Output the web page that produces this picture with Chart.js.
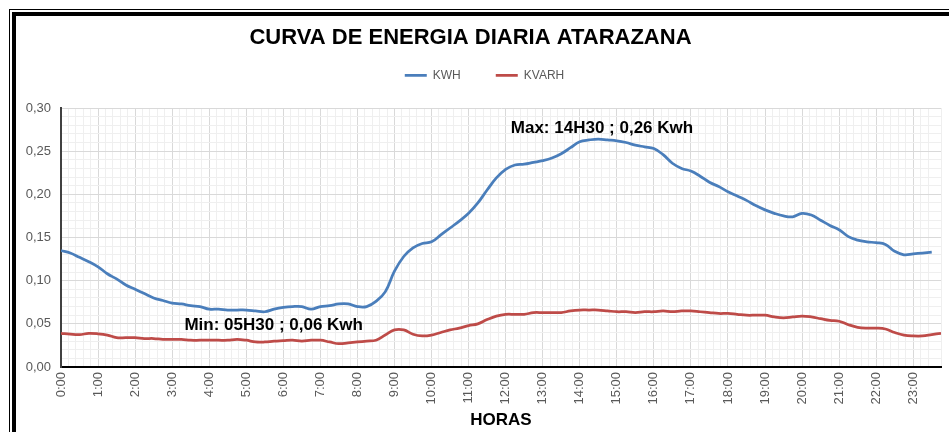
<!DOCTYPE html>
<html>
<head>
<meta charset="utf-8">
<script src="https://cdn.jsdelivr.net/npm/chart.js@4"></script>
<style>
  html, body { margin:0; padding:0; background:#fff; overflow:hidden; }
  .wrap { position:relative; width:949px; height:432px; }
  .frame { position:absolute; left:9px; top:9px; width:2000px; height:2000px; border-left:1px solid #000; border-top:1px solid #000; }
  .frame::after { content:''; position:absolute; left:2px; top:2px; right:0; bottom:0; border-left:4px solid #000; border-top:4px solid #000; }
  canvas { position:absolute; left:0; top:0; }
</style>
</head>
<body>
<div class="wrap">
  <div class="frame"></div>
  <canvas id="c" width="949" height="432"></canvas>
</div>
<script>
/* Curva de energia diaria - 15 min readings */
const times = [
  '0:00','0:15','0:30','0:45', '1:00','1:15','1:30','1:45', '2:00','2:15','2:30','2:45',
  '3:00','3:15','3:30','3:45', '4:00','4:15','4:30','4:45', '5:00','5:15','5:30','5:45',
  '6:00','6:15','6:30','6:45', '7:00','7:15','7:30','7:45', '8:00','8:15','8:30','8:45',
  '9:00','9:15','9:30','9:45', '10:00','10:15','10:30','10:45', '11:00','11:15','11:30','11:45',
  '12:00','12:15','12:30','12:45', '13:00','13:15','13:30','13:45', '14:00','14:15','14:30','14:45',
  '15:00','15:15','15:30','15:45', '16:00','16:15','16:30','16:45', '17:00','17:15','17:30','17:45',
  '18:00','18:15','18:30','18:45', '19:00','19:15','19:30','19:45', '20:00','20:15','20:30','20:45',
  '21:00','21:15','21:30','21:45', '22:00','22:15','22:30','22:45', '23:00','23:15','23:30','23:45'
];

const kwh = [
  .135, .132, .127, .122,   .116, .108, .102, .095,   .090, .085, .080, .077,
  .074, .073, .071, .070,   .067, .067, .066, .066,   .066, .065, .064, .067,
  .069, .070, .070, .067,   .070, .071, .073, .073,   .070, .070, .076, .087,
  .111, .128, .138, .143,   .145, .153, .161, .169,   .178, .190, .205, .219,
  .229, .234, .235, .237,   .239, .242, .247, .254,   .261, .263, .264, .263,
  .262, .260, .257, .255,   .253, .246, .236, .230,   .227, .221, .214, .209,
  .203, .198, .193, .187,   .182, .178, .175, .174,   .178, .176, .170, .164,
  .159, .151, .147, .145,   .144, .142, .134, .130,   .131, .132, .133, null
];

const kvarh = [
  .039, .038, .0375, .039,  .0385, .037, .034, .034,  .034, .033, .033, .032,
  .032, .032, .031, .031,   .031, .031, .031, .032,   .031, .029, .029, .030,
  .0305, .031, .030, .031,  .031, .029, .027, .028,   .029, .030, .031, .037,
  .043, .043, .038, .036,   .037, .040, .043, .045,   .048, .050, .055, .059,
  .061, .061, .061, .063,   .063, .063, .063, .065,   .066, .066, .066, .065,
  .064, .064, .063, .064,   .064, .065, .064, .065,   .065, .064, .063, .062,
  .062, .061, .060, .060,   .060, .058, .057, .058,   .059, .058, .056, .054,
  .053, .049, .046, .045,   .045, .044, .040, .037,   .036, .036, .0375, .039
];

const notes = [
  { text: 'Max: 14H30 ; 0,26 Kwh', hour: 14.6, value: 0.277 },
  { text: 'Min: 05H30 ; 0,06 Kwh', hour: 5.74, value: 0.0487 }
];

const FONT = "'Liberation Sans', Arial, sans-serif";
const GREY = '#595959';
const hourOf = s => { const [h, m] = s.split(':'); return +h + (+m) / 60; };
const pts = arr => times.map((t, i) => ({ x: hourOf(t), y: arr[i] }));
const isWhole = v => Math.abs(v - Math.round(v)) < 1e-6;

const notesPlugin = {
  id: 'notes',
  afterLayout(chart) {
    // legend in the reference sits a little right of centre
    chart.legend.left += 14; chart.legend.right += 14;
  },
  afterDatasetsDraw(chart) {
    const { ctx, scales: { x, y } } = chart;
    ctx.save();
    ctx.font = `bold 17px ${FONT}`;
    ctx.fillStyle = '#000';
    ctx.textAlign = 'center';
    ctx.textBaseline = 'middle';
    notes.forEach(n => ctx.fillText(n.text, x.getPixelForValue(n.hour), y.getPixelForValue(n.value)));
    ctx.restore();
  }
};

new Chart(document.getElementById('c'), {
  type: 'line',
  data: {
    datasets: [
      { label: 'KWH', data: pts(kwh), borderColor: '#4A7EBB', backgroundColor: '#4A7EBB', borderWidth: 2.75, pointRadius: 0, tension: 0.4 },
      { label: 'KVARH', data: pts(kvarh), borderColor: '#BE4B48', backgroundColor: '#BE4B48', borderWidth: 2.75, pointRadius: 0, tension: 0.4 }
    ]
  },
  options: {
    responsive: false, animation: false,
    layout: { padding: { left: 0, right: 8, top: 0, bottom: 0 } },
    plugins: {
      title: { display: true, text: 'CURVA DE ENERGIA DIARIA ATARAZANA', color: '#000',
               font: { family: FONT, size: 22, weight: 'bold' }, padding: { top: 25, bottom: -17 } },
      legend: { position: 'top',
                labels: { usePointStyle: true, pointStyle: 'line', pointStyleWidth: 22, padding: 35,
                          color: GREY, font: { family: FONT, size: 12 } } },
      tooltip: { enabled: false }
    },
    scales: {
      x: {
        type: 'linear', min: 0, max: 23.75,
        grid: { drawTicks: false, color: c => isWhole(c.tick.value) ? '#d9d9d9' : '#efefef' },
        border: { color: '#000', width: 2 },
        ticks: { stepSize: 0.2, autoSkip: false, minRotation: 90, maxRotation: 90, padding: 5,
                 color: GREY, font: { family: FONT, size: 13 },
                 callback: v => isWhole(v) && v < 24 ? Math.round(v) + ':00' : '' },
        title: { display: true, text: 'HORAS', color: '#000', font: { family: FONT, size: 17, weight: 'bold' },
                 padding: { top: 0, bottom: 1 } },
        afterFit: s => { s.height = 65; s.paddingLeft = 0; s.paddingRight = 0; }
      },
      xTop: {
        type: 'linear', position: 'top', min: 0, max: 1,
        grid: { display: false }, border: { display: false }, ticks: { display: false },
        afterFit: s => { s.height = 16.6; s.paddingLeft = 0; s.paddingRight = 0; }
      },
      y: {
        min: 0, max: 0.3,
        grid: { drawTicks: false, color: c => Math.round(c.tick.value * 100) % 5 === 0 ? '#d9d9d9' : '#efefef' },
        border: { color: '#404040', width: 2 },
        ticks: { stepSize: 0.01, autoSkip: false, padding: 10, color: GREY, font: { family: FONT, size: 13 },
                 callback: v => Math.round(v * 100) % 5 === 0 ? v.toFixed(2).replace('.', ',') : '' },
        afterFit: s => { s.width = 61; }
      }
    }
  },
  plugins: [notesPlugin]
});
</script>
</body>
</html>
